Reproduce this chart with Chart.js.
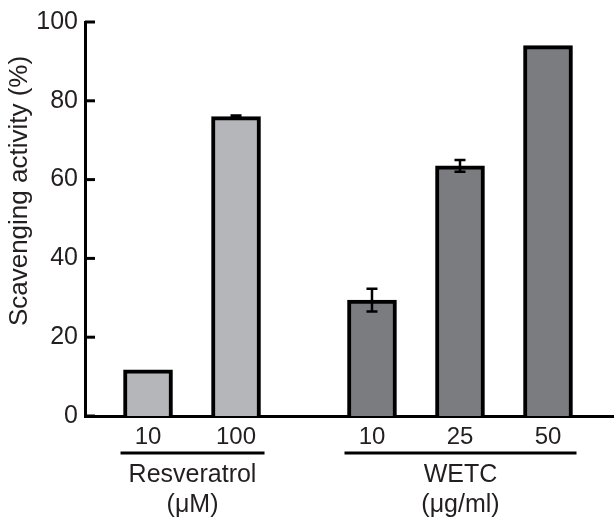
<!DOCTYPE html>
<html><head><meta charset="utf-8">
<script src="https://cdn.jsdelivr.net/npm/chart.js@4/dist/chart.umd.min.js"></script>
<style>html,body{margin:0;padding:0;background:#fff}#wrap{width:614px;height:520px}</style>
</head><body><div id="wrap"><canvas id="c" width="614" height="520"></canvas></div>
<script>
// ---- data ----
const groupNames = ['Resveratrol', 'WETC'];
const groupUnits = ['(\u03bcM)', '(\u03bcg/ml)'];
const resveratrolDoses = ['10', '100'];
const resveratrolValues = [11.7, 76.0];
const resveratrolErrors = [0, 0.3];
const wetcDoses = ['10', '25', '50'];
const wetcValues = [29.4, 63.5, 94.0];
const wetcErrors = [2.9, 1.5, 0];
const yTicks = [0, 20, 40, 60, 80, 100];
const yTitle = 'Scavenging activity (%)';

// ---- layout helpers (not data) ----
const GROUP_GAP = 0.545;
const FONT = '"Liberation Sans", Arial, sans-serif';
const TEXT = '#231f20';
const resX = resveratrolValues.map((v, i) => i);
const wetcX = wetcValues.map((v, i) => resveratrolValues.length + GROUP_GAP + i);
const allX = resX.concat(wetcX);
const allLabels = resveratrolDoses.concat(wetcDoses);

const extras = {
  id: 'extras',
  afterDraw(chart) {
    const ctx = chart.ctx, ca = chart.chartArea;
    const ys = chart.scales.y, xs = chart.scales.x;
    ctx.save();
    // inward y ticks
    ctx.strokeStyle = '#000'; ctx.lineWidth = 3;
    yTicks.forEach(v => {
      const y = ys.getPixelForValue(v);
      ctx.beginPath(); ctx.moveTo(ca.left, y); ctx.lineTo(ca.left + 10, y); ctx.stroke();
    });
    // error bars
    const errs = [resveratrolErrors, wetcErrors];
    const vals = [resveratrolValues, wetcValues];
    ctx.lineWidth = 2.5;
    chart.data.datasets.forEach((ds, di) => {
      const meta = chart.getDatasetMeta(di);
      meta.data.forEach((el, i) => {
        const e = errs[di][i];
        if (!e) return;
        const y1 = ys.getPixelForValue(vals[di][i] + e);
        const y2 = ys.getPixelForValue(vals[di][i] - e);
        const x = el.x;
        ctx.beginPath();
        ctx.moveTo(x, y1); ctx.lineTo(x, y2);
        ctx.moveTo(x - 5.5, y1); ctx.lineTo(x + 5.5, y1);
        ctx.moveTo(x - 5.5, y2); ctx.lineTo(x + 5.5, y2);
        ctx.stroke();
      });
    });
    // group underlines and labels
    const groups = [resX, wetcX];
    ctx.fillStyle = TEXT;
    ctx.textAlign = 'center';
    ctx.textBaseline = 'middle';
    groups.forEach((g, gi) => {
      const l = xs.getPixelForValue(g[0]) - 24.5 - 3;
      const r = xs.getPixelForValue(g[g.length - 1]) + 24.5 + 4;
      ctx.lineWidth = 3; ctx.strokeStyle = '#000';
      ctx.beginPath(); ctx.moveTo(l, 453); ctx.lineTo(r, 453); ctx.stroke();
      const cx = (l + r) / 2;
      ctx.font = '25px ' + FONT;
      ctx.fillText(groupNames[gi], cx, 475);
      ctx.fillText(groupUnits[gi], cx, 505);
    });
    // y title
    ctx.font = '26px ' + FONT;
    ctx.translate(20, 191);
    ctx.rotate(-Math.PI / 2);
    ctx.fillText(yTitle, 0, 0);
    ctx.restore();
  }
};

new Chart(document.getElementById('c'), {
  type: 'bar',
  data: {
    datasets: [
      { label: groupNames[0], data: resveratrolValues.map((v, i) => ({ x: resX[i], y: v })),
        backgroundColor: '#b5b6ba', borderColor: '#000', borderWidth: 4, barThickness: 49, grouped: false },
      { label: groupNames[1], data: wetcValues.map((v, i) => ({ x: wetcX[i], y: v })),
        backgroundColor: '#7b7c80', borderColor: '#000', borderWidth: 4, barThickness: 49, grouped: false }
    ]
  },
  options: {
    responsive: false, animation: false, devicePixelRatio: 1,
    layout: { padding: { top: 19, right: 0, bottom: 0, left: 0 } },
    plugins: { legend: { display: false }, tooltip: { enabled: false } },
    scales: {
      x: {
        type: 'linear', min: -0.716, max: 5.295, offset: false,
        grid: { display: false, drawTicks: false, offset: false },
        border: { display: true, color: '#000', width: 3 },
        afterBuildTicks: s => { s.ticks = allX.map(v => ({ value: v })); },
        afterFit: s => { s.height = 104; },
        ticks: { autoSkip: false, maxRotation: 0, padding: 7, color: TEXT,
          font: { size: 24, family: FONT },
          callback: (v, i) => allLabels[i] }
      },
      y: {
        min: 0, max: 100,
        grid: { display: false, drawTicks: false },
        border: { display: true, color: '#000', width: 3 },
        afterBuildTicks: s => { s.ticks = yTicks.map(v => ({ value: v })); },
        afterFit: s => { s.width = 85; },
        ticks: { padding: 7, color: TEXT, font: { size: 25, family: FONT } }
      }
    }
  },
  plugins: [extras]
});
</script>
</body></html>
